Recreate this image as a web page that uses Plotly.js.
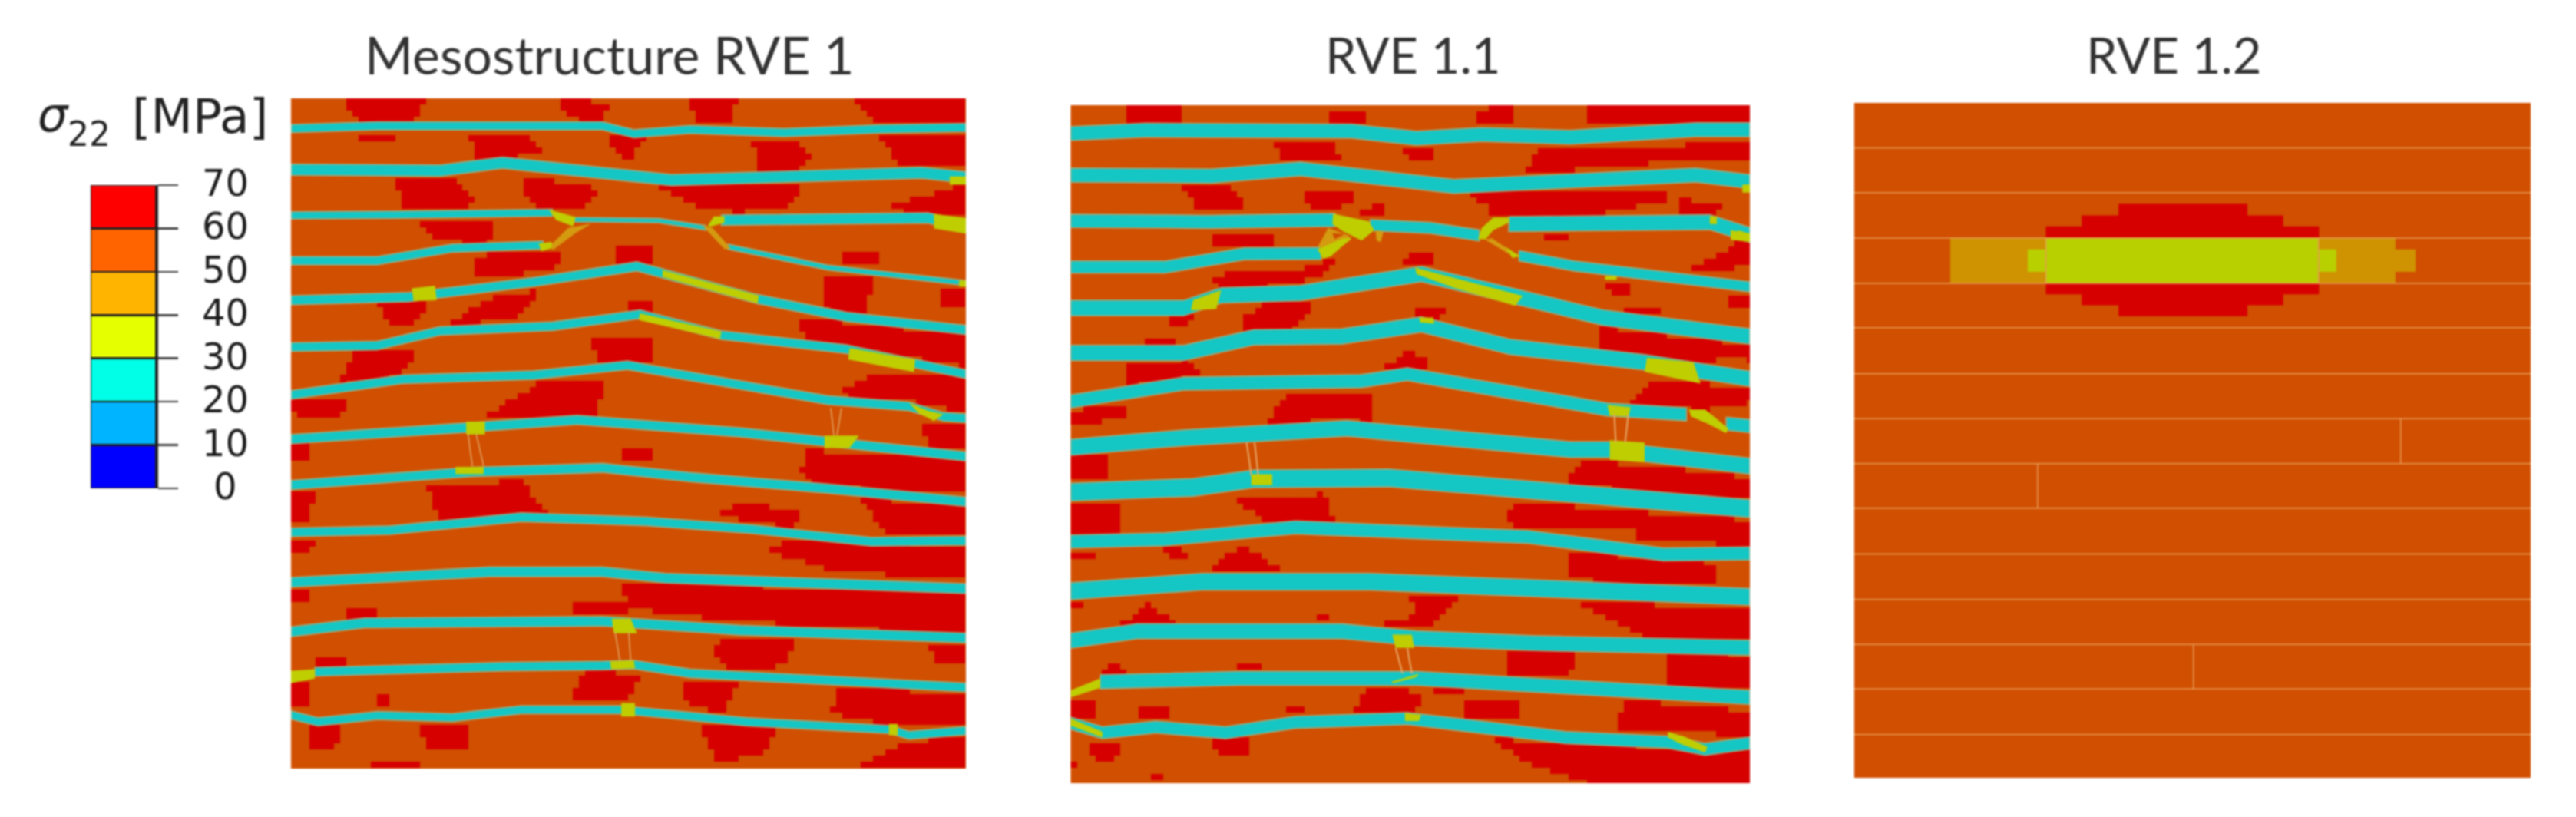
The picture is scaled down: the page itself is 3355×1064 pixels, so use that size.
<!DOCTYPE html>
<html><head><meta charset="utf-8">
<script src="https://cdn.plot.ly/plotly-3.0.1.min.js"></script>
<style>html,body{margin:0;padding:0;background:#fff}#g{width:3355px;height:1064px;filter:blur(0.9px)}</style>
</head><body><div id="g"></div>
<script>
// ---- legend
const legendTicks=[0,10,20,30,40,50,60,70];
const legendSteps=[10,10,10,10,10,10,10];
const legendColors=['#0000ff','#00b4ff','#00ffe6','#e6ff00','#ffb400','#ff6400','#ff0000'];
const panelTitles=['Mesostructure RVE 1','RVE 1.1','RVE 1.2'];
// ---- palette of the contour plots
const matrixColor='#d04f00',redColor='#d60000',bandColor='#14c6c4',yellowColor='#bfce00',amberColor='#d49a10',limeColor='#b9d000',seamColor='#e89a55';

// ---- Panel RVE 1: read in panel units (x 462-1541, y 190-1478)
const p1Cell=[9.8,11.8];
const p1BandX=[
[462,600,860,960,1010,1100,1250,1400,1541],
[462,700,800,1070,1250,1470,1541],
[462,600,880],[915,1050,1125],[1150,1480,1541],
[462,600,720,865],[1160,1320,1541],
[462,650,850,1015,1205,1350,1541],
[462,600,700,880,1020,1150,1350,1541],
[462,640,850,1000,1200,1320,1450,1505,1541],
[462,740,920,1180,1320,1541],
[462,750,960,1100,1320,1541],
[462,620,830,1030,1200,1390,1541],
[462,780,960,1060,1541],
[462,580,960,1180,1541],
[500,800,960,1010,1100,1541],
[462,505,600,720,830,990,1190,1420,1450,1541]];
const p1BandY=[
[248,243,243,243,258,250,256,249,246],
[327,329,314,347,341,333,342],
[415,414,410],[423,425,439],[424,420,436],
[502,502,478,472],[475,515,545],
[578,572,543,513,575,610,635],
[668,665,637,628,605,645,672,720],
[760,730,722,703,745,770,782,802,805],
[845,823,808,832,850,878],
[933,908,900,918,940,965],
[1024,1020,995,1003,1018,1042,1040],
[1120,1100,1100,1112,1132],
[1215,1198,1195,1212,1227],
[1292,1282,1280,1278,1295,1322],
[1375,1388,1376,1380,1365,1365,1388,1403,1414,1405]];
const p1BandW=[16,22,14,9,20,16,10,18,17,17,18,18,17,19,19,17,16];
const p1RedX=[
[552,675,670,650,575,555],[895,925,970,955,900],[1100,1175,1165,1110],[1355,1541,1541,1400],[565,640,620,580],
[745,835,860,820,760],[970,1030,1000,985],[1200,1270,1295,1270,1210],[1400,1541,1541,1440],[628,720,760,700,640],
[840,890,965,920,860,830],[1045,1120,1280,1260,1180,1110],[1425,1500,1541,1541,1440],[665,782,780,700],[760,800,905,880,800,760],
[980,1045,1040,985],[1340,1400,1400,1345],[1500,1541,1541,1505],[1310,1400,1380,1320],[1270,1541,1541,1355,1290],
[600,680,660,620],[790,860,820,700,760],[1000,1045,1040,1005],[560,665,650,600,535],[945,1045,1040,950],
[860,965,950,770],[462,560,540,470],[1400,1541,1541,1450,1330],[1465,1541,1541,1490],[1290,1320,1541,1541,1300,1275],
[990,1040,1040,990],[462,490,490,462],[680,830,880,700],[462,500,490,462],[1180,1280,1260,1140],
[1370,1541,1541,1420],[1260,1541,1541,1340,1220],[990,1541,1541,1180,1000],[905,1000,1000,920],[545,595,595,550],
[1150,1270,1250,1170,1135],[1480,1541,1541,1490],[930,960,1020,1000,910],[1090,1180,1150,1090],[1340,1541,1541,1420,1325],
[665,748,748,680],[1115,1240,1220,1140],[1450,1541,1541,1365],[585,670,670,585],[490,545,530,495],
[462,490,490,462],[600,620,620,600],[462,500,490,462],[462,495,495,462],[495,550,545,500]];
const p1RedY=[
[190,190,225,235,235,215],[190,190,205,238,225],[195,195,240,240],[190,190,238,238],[255,255,275,275],
[255,258,290,305,305],[265,265,315,300],[268,268,300,330,330],[262,262,325,325],[345,345,395,405,405],
[338,350,365,405,400,375],[360,360,360,395,410,400],[395,370,355,410,410],[425,422,470,465],[495,485,480,515,535,530],
[478,478,505,505],[490,490,505,505],[550,550,590,590],[530,530,600,600],[612,645,705,670,660],
[585,585,625,625],[570,560,610,635,590],[575,575,600,600],[680,668,710,735,740],[650,650,695,695],
[735,728,800,805],[765,765,800,800],[720,725,795,770,760],[815,815,865,865],[860,870,880,950,935,910],
[862,862,892,892],[855,855,890,890],[935,925,995,1005],[945,945,1000,1000],[965,985,1015,990],
[960,970,1032,1030],[1035,1050,1112,1100,1060],[1120,1140,1220,1195,1170],[1155,1155,1185,1185],[1165,1165,1190,1190],
[1225,1225,1280,1290,1260],[1235,1235,1270,1270],[1290,1290,1300,1350,1345],[1305,1310,1370,1350],[1320,1335,1390,1395,1370],
[1390,1390,1440,1440],[1395,1395,1450,1465],[1425,1420,1478,1478],[1465,1465,1478,1478],[1395,1395,1440,1440],
[1310,1310,1360,1360],[1330,1330,1360,1360],[1040,1040,1060,1060],[1130,1130,1155,1155],[1260,1260,1285,1285]];
const p1AmberX=[[878,905,942,917,880],[1120,1135,1165,1155]];
const p1AmberY=[[471,439,431,449,482],[435,438,478,480]];
const p1YellowX=[
[874,917,913,886],[858,879,879,862],[1128,1138,1155,1155,1134],[1490,1541,1541,1490],
[655,692,695,658],[1056,1210,1208,1056],[1020,1150,1148,1018],[1355,1460,1458,1353],[1450,1480,1505,1490,1465],
[742,772,772,742],[1315,1370,1355,1315],[725,770,770,725],[975,1005,1015,978],[972,1010,1012,974],[462,500,500,462],[990,1012,1012,990],[1418,1432,1432,1418],[1515,1541,1541,1515],[1530,1541,1541,1530]];
const p1YellowY=[
[404,418,436,424],[469,466,478,484],[436,417,417,429,436],[412,420,450,440],
[555,550,578,580],[520,569,584,533],[603,638,652,616],[670,692,716,692],[775,790,797,810,795],
[811,811,836,836],[838,838,862,862],[898,898,912,912],[1190,1190,1218,1218],[1272,1270,1285,1287],[1290,1287,1305,1314],[1352,1352,1378,1378],[1392,1392,1414,1414],[340,340,356,356],[540,540,552,552]];
const p1SeamX=[[745,752],[758,770],[1325,1330],[1342,1335],[980,988],[1002,1005]];
const p1SeamY=[[835,897],[835,897],[785,838],[785,838],[1215,1272],[1215,1272]];

// ---- Panel RVE 1.1: read in panel units (x 57-1516, y 60-1497)
const p2Cell=[13.2,13];
const p2BandX=[
[57,220,660,800,940,1130,1400,1516],
[57,360,550,880,1100,1400,1516],
[57,350,625],[700,830,935],[998,1430,1516],
[57,260,430,595],[1020,1140,1516],
[57,300,380,550,810,1030,1200,1516],
[57,300,450,640,810,1000,1290,1516],
[57,300,680,780,1000,1210,1380],[1465,1516],
[57,300,650,1130,1215,1516],
[57,320,450,740,1516],
[57,260,540,1040,1330,1516],
[57,340,700,1516],
[57,200,640,800,1050,1516],
[120,420,750,800,1516],
[57,125,240,390,540,780,970,1120,1340,1420,1516]];
const p2BandY=[
[120,113,115,130,122,128,112,112],
[208,210,195,232,222,208,222],
[305,307,303],[314,320,336],[312,308,335],
[403,403,375,374],[379,401,445],
[490,490,463,458,418,470,510,550],
[585,585,552,550,525,572,605,640],
[688,650,645,630,668,705,715],[735,740],
[785,765,745,790,790,825],
[880,870,852,850,915],
[985,980,955,975,1012,1010],
[1090,1070,1070,1102],
[1195,1175,1175,1190,1200,1210],
[1282,1275,1275,1275,1315],
[1370,1390,1378,1390,1368,1360,1382,1400,1410,1425,1412]];
const p2BandW=[30,30,28,24,32,26,22,33,33,28,28,34,38,28,36,32,30,26];
const p2RedX=[
[178,295,292,180],[610,690,690,610],[925,1005,1000,920],[1170,1516,1516,1170],[495,620,640,520,500],
[765,835,830,780],[1060,1516,1516,1400,1035],[295,395,435,345,320],[555,673,660,610,577],[679,709,729,729,682],
[855,1340,1340,1200,960,950],[1365,1460,1440,1370],[1075,1125,1120,1080],[350,490,490,420,370],[1385,1440,1490,1516,1516,1460],
[365,410,560,640,610,540,375],[770,792,838,838],[1210,1260,1260,1215],[1465,1516,1516,1470],[270,335,300,270],
[420,470,582,550,530,420],[790,860,850,790],[1190,1516,1516,1450,1430,1295,1230,1195],[1245,1330,1330,1250],[210,275,275,210],
[180,310,345,280,178],[735,780,810,830,735],[1065,1095,1095,1065],[1250,1310,1516,1516,1420],[470,530,700,705,600],
[57,175,175,57],[57,130,145,57],[1120,1160,1350,1516,1516,1300,1150],[57,160,160,57],[395,600,625,480],
[990,1010,1300,1516,1516,1330,1280,1270],[1125,1330,1450,1440,1125],[365,430,510,365],[57,130,110,57],[245,300,310,280],
[780,890,830,710,800],[1140,1516,1516,1280,1200],[165,225,285],[57,90,90,57],[580,610,610,580],
[990,1140,1130,990],[1340,1516,1516,1340],[415,465,465,415],[120,150,175],[660,700,760,815,800],
[840,900,905,840],[900,1020,1020,905],[1225,1245,1516,1516,1380],[57,105,105,57],[205,270,275,210],
[525,555,555,525],[360,440,440,385,360],[95,170,150,105],[960,1100,1340,1516,1516,1170,1030],[225,260,260,225],[57,75,75,57]];
const p2RedY=[
[60,60,95,95],[70,70,100,100],[70,60,105,105],[60,60,95,105],[133,140,180,178,160],
[150,150,172,172],[150,142,172,175,205],[232,232,278,288,270],[244,249,268,282,282],[285,268,271,298,298],
[250,238,260,290,298,265],[260,265,288,288],[335,335,352,352],[328,328,352,365,358],[410,380,350,345,392,418],
[430,405,405,380,410,440,450],[401,366,366,404],[435,435,465,465],[462,465,495,492],[505,500,532,530],
[515,482,475,520,540,540],[495,495,510,510],[530,568,600,590,612,595,590,575],[485,488,500,500],[555,552,565,565],
[612,598,630,640,655],[610,580,590,620,618],[600,600,612,612],[695,640,660,690,705],[735,668,665,730,728],
[705,697,725,735],[805,800,855,858],[860,815,830,850,890,885,862],[905,905,965,965],[890,885,945,945],
[950,900,925,940,995,980,985,960],[1005,1025,1030,1080,1065],[1030,995,1045,1050],[1005,1005,1018,1018],[1000,1000,1025,1025],
[1098,1105,1165,1165,1140],[1115,1125,1185,1185,1145],[1160,1115,1160],[1110,1110,1125,1125],[1140,1140,1155,1155],
[1215,1215,1275,1275],[1220,1225,1295,1295],[1245,1245,1258,1258],[1265,1240,1265],[1345,1290,1290,1320,1345],
[1295,1295,1310,1310],[1315,1320,1360,1360],[1385,1320,1345,1395,1390],[1320,1320,1360,1360],[1335,1335,1360,1360],
[1340,1340,1350,1350],[1400,1400,1430,1445,1420],[1405,1410,1445,1445],[1400,1415,1420,1430,1497,1497,1450],[1480,1480,1495,1495],[1445,1445,1460,1460]];
const p2AmberX=[[588,610,654,660,616],[712,729,723,714],[946,962,1020,1009]];
const p2AmberY=[[360,320,336,344,377],[325,328,350,347],[344,342,380,382]];
const p2HoleX=[[619,646,624]];
const p2HoleY=[[331,333,344]];
const p2YellowX=[
[621,698,709,682,654,643,619],[586,643,660,616,599,591],[965,998,998,965,948,932,940],[990,1023,1006],[1430,1445,1445,1430],[1475,1516,1516,1475],
[320,380,370,315],[797,1028,1012,880,800],[805,836,838,808],[1295,1395,1410,1290],[1385,1420,1470,1465,1425,1390],
[1215,1290,1290,1215],[1210,1260,1255,1215],[445,490,490,445],[745,805,800,750],[748,790,795,755],[57,120,120,57],[775,810,805,775],[1340,1375,1425,1420,1370,1340],[57,125,125,57],[1500,1516,1516,1500],[1490,1516,1516,1490],[1205,1230,1230,1205]];
const p2YellowY=[
[290,306,325,347,333,328,312],[366,342,342,380,386,371],[298,298,309,325,344,344,320],[360,380,384],[295,295,312,312],[325,332,350,345],
[473,452,492,495],[404,464,485,447,418],[510,510,523,520],[595,605,650,625],[705,705,745,755,735,720],
[770,775,817,812],[695,700,720,718],[842,842,865,865],[1282,1265,1272,1285],[1182,1182,1210,1210],[1300,1275,1295,1315],[1348,1352,1365,1365],[1388,1398,1420,1432,1415,1400],[1360,1388,1400,1375],[228,228,245,245],[325,332,348,340],[422,422,430,430]];
const p2SeamX=[[435,445],[452,460],[1225,1228],[1255,1248],[755,770],[780,790]];
const p2SeamY=[[775,845],[775,845],[715,775],[715,775],[1210,1265],[1210,1265]];

// ---- Panel RVE 1.2: read in panel units (x 57-1473, y 160-1511)
const p3LayerY=[250,340,430,521,610,702,792,882,971,1063,1154,1244,1333,1424];
const p3CrackX=[1201,441,767,458,1029];
const p3CrackTop=[792,882,1244,430,430];
const p3CrackBottom=[882,971,1333,521,521];
const p3RedX=[610,880,880,955,955,1030,1030,458,458,533,533,610];
const p3RedYTop=[362,362,385,385,407,407,430,430,407,407,385,385];
const p3RedX2=[458,1030,1030,955,955,880,880,610,610,533,533,458];
const p3RedYBottom=[521,521,543,543,565,565,587,587,565,565,543,543];
const p3AmberX=[[258,458,458,258],[1029,1190,1190,1232,1232,1190,1190,1029]];
const p3AmberY=[[430,430,521,521],[430,430,453,453,498,498,521,521]];
const p3LimeX=[[458,1029,1029,1066,1066,1029,1029,458,458,420,420,458]];
const p3LimeY=[[430,430,453,453,498,498,521,521,498,498,453,453]];

// ---- frames in pixels of the page
const W=3355,H=1064;
const frames=[[379,1258,128,1001],[1394.5,2279,137,1020],[2415,3296,134,1013]];
const ranges=[[[462,1541],[1478,190]],[[57,1516],[1497,60]],[[57,1473],[1511,160]]];
const dx=f=>[f[0]/W,f[1]/W], dy=f=>[1-f[3]/H,1-f[2]/H];

function joined(xs,ys){const X=[],Y=[];xs.forEach((a,i)=>{X.push(...a,a[0],null);Y.push(...ys[i],ys[i][0],null)});return [X,Y]}
function poly(n,xs,ys,color,opts){const [X,Y]=joined(xs,ys);const o=opts||{};
 return {type:'scatter',mode:'lines',x:X,y:Y,xaxis:'x'+n,yaxis:'y'+n,fill:'toself',fillcolor:color,hoverinfo:'skip',showlegend:false,
  line:{width:o.lw||0,color:o.lc||color}}}
function bands(n,bx,by,bw){const xs=[],ys=[];bx.forEach((a,i)=>{xs.push(a.concat(a.slice().reverse()));
  const t=by[i].map(v=>v-bw[i]/2),b=by[i].map(v=>v+bw[i]/2).reverse();ys.push(t.concat(b))});
 return poly(n,xs,ys,bandColor,{lw:1.5,lc:'#a8a878'})}
function seams(n,xs,ys,c,w){const X=[],Y=[];xs.forEach((a,i)=>{X.push(...a,null);Y.push(...ys[i],null)});
 return {type:'scatter',mode:'lines',x:X,y:Y,xaxis:'x'+n,yaxis:'y'+n,hoverinfo:'skip',showlegend:false,line:{color:c,width:w}}}
// the red patches are made of mesh elements: an element is red when its centre lies in a patch outline
function inside(px,py,xs,ys){let c=false;for(let i=0,j=xs.length-1;i<xs.length;j=i++){
  if((ys[i]>py)!==(ys[j]>py)&&px<(xs[j]-xs[i])*(py-ys[i])/(ys[j]-ys[i])+xs[i])c=!c}return c}
function mesh(n,xs,ys,cell,r){const cx=[],cy=[];for(let x=r[0][0]+cell[0]/2;x<r[0][1];x+=cell[0])cx.push(x);for(let y=r[1][1]+cell[1]/2;y<r[1][0];y+=cell[1])cy.push(y);
 const z=cy.map(y=>cx.map(x=>xs.some((a,i)=>inside(x,y,a,ys[i]))?1:null));
 return {type:'heatmap',x:cx,y:cy,z:z,xaxis:'x'+n,yaxis:'y'+n,zmin:0,zmax:1,showscale:false,hoverinfo:'skip',zsmooth:false,colorscale:[[0,redColor],[1,redColor]]}}

const traces=[
 mesh(1,p1RedX,p1RedY,p1Cell,ranges[0]),
 bands(1,p1BandX,p1BandY,p1BandW),
 poly(1,p1AmberX,p1AmberY,amberColor),
 poly(1,p1YellowX,p1YellowY,yellowColor),
 seams(1,p1SeamX,p1SeamY,'#e2a868',1.5),
 mesh(2,p2RedX,p2RedY,p2Cell,ranges[1]),
 bands(2,p2BandX,p2BandY,p2BandW),
 poly(2,p2AmberX,p2AmberY,amberColor),
 poly(2,p2YellowX,p2YellowY,yellowColor),
 poly(2,p2HoleX,p2HoleY,matrixColor),
 seams(2,p2SeamX,p2SeamY,'#e8a868',2),
 poly(3,[p3RedX,p3RedX2],[p3RedYTop,p3RedYBottom],redColor),
 poly(3,p3AmberX,p3AmberY,'#cf9200'),
 poly(3,p3LimeX,p3LimeY,limeColor),
 seams(3,p3LayerY.map(()=>[57,1473]),p3LayerY.map(v=>[v,v]),seamColor,1.5),
 seams(3,p3CrackX.map(v=>[v,v]),p3CrackX.map((v,i)=>[p3CrackTop[i],p3CrackBottom[i]]),seamColor,1.5)
];
legendSteps.forEach((s,i)=>traces.push({type:'bar',x:[0.5],y:[s],width:[1],xaxis:'x4',yaxis:'y4',showlegend:false,hoverinfo:'skip',
  marker:{color:legendColors[i],line:{color:'#222',width:2.5}}}));

const layout={width:W,height:H,margin:{l:0,r:0,t:0,b:0},paper_bgcolor:'#fff',plot_bgcolor:matrixColor,barmode:'stack',bargap:0,showlegend:false,
 font:{family:'DejaVu Sans',color:'#222'},annotations:[],hovermode:false};
frames.forEach((f,i)=>{const n=i+1;
 layout['xaxis'+n]={domain:dx(f),range:ranges[i][0],visible:false,fixedrange:true,anchor:'y'+n};
 layout['yaxis'+n]={domain:dy(f),range:ranges[i][1],visible:false,fixedrange:true,anchor:'x'+n};
});
const cb=[118,203,241,636];
layout.xaxis4={domain:dx(cb),range:[0,1],visible:false,fixedrange:true,anchor:'y4'};
layout.yaxis4={domain:dy(cb),range:[0,70],fixedrange:true,anchor:'x4',side:'right',showgrid:false,zeroline:false,showline:true,linecolor:'#222',linewidth:2.5,
 ticks:'outside',ticklen:26,tickwidth:2.5,tickcolor:'#444',tickvals:legendTicks,showticklabels:false};
legendTicks.forEach(v=>layout.annotations.push({xref:'paper',yref:'y4',x:293/W,y:v,yshift:3,text:String(v),showarrow:false,xanchor:'center',yanchor:'middle',font:{family:'DejaVu Sans',size:48,color:'#1c1c1c'}}));
const tx=[793,1840,2831],ts=[68,65,65];
panelTitles.forEach((t,i)=>layout.annotations.push({xref:'paper',yref:'paper',x:tx[i]/W,y:1-71/H,text:t,showarrow:false,xanchor:'center',yanchor:'middle',font:{family:'Lato',size:ts[i],color:'#333'}}));
const unitTexts=['σ','22','[MPa]'],unitX=[69,116,260],unitY=[150,174,152],unitSizes=[62,44,63],unitItalic=['italic','normal','normal'];
unitTexts.forEach((t,i)=>layout.annotations.push({xref:'paper',yref:'paper',x:unitX[i]/W,y:1-unitY[i]/H,text:t,showarrow:false,xanchor:'center',yanchor:'middle',font:{family:'DejaVu Sans',size:unitSizes[i],style:unitItalic[i],color:'#222'}}));
Plotly.newPlot('g',traces,layout,{displayModeBar:false,staticPlot:true});
</script></body></html>
